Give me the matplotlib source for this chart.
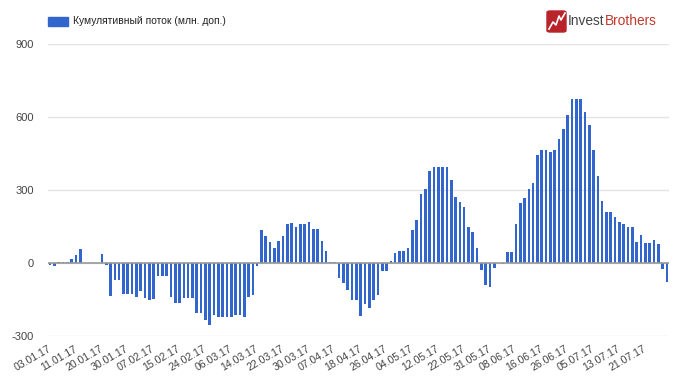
import matplotlib
matplotlib.use("Agg")
import matplotlib.pyplot as plt
import matplotlib.patches as mpatches
import numpy as np

# cumulative flow, one value per US trading day 03.01.17 - 28.07.17
flow = [-10, -12, 3, 3, 4, 15, 30, 57, 0, 0, 0, 0,
        36, -8, -138, -72, -72, -130, -130, -130, -141, -117, -143, -152,
        -150, -55, -55, -55, -141, -164, -164, -143, -143, -143, -207, -207,
        -236, -258, -216, -223, -223, -223, -223, -214, -214, -223, -142, -134,
        -15, 135, 112, 87, 61, 91, 112, 159, 165, 146, 159, 159,
        168, 138, 138, 91, 47, 5, 5, -61, -84, -110, -154, -154,
        -221, -168, -185, -154, -134, -32, -32, 9, 41, 50, 50, 59,
        134, 178, 281, 302, 377, 395, 394, 394, 394, 341, 272, 252,
        228, 149, 127, 59, -29, -91, -101, -20, 0, -4, 45, 45,
        160, 244, 267, 303, 327, 443, 462, 462, 456, 465, 510, 552,
        608, 673, 673, 673, 621, 568, 463, 356, 256, 207, 207, 188,
        167, 159, 149, 149, 87, 114, 80, 80, 94, 77, -26, -81]

tick_labels = ['03.01.17', '11.01.17', '20.01.17', '30.01.17', '07.02.17',
               '15.02.17', '24.02.17', '06.03.17', '14.03.17', '22.03.17',
               '30.03.17', '07.04.17', '18.04.17', '26.04.17', '04.05.17',
               '12.05.17', '22.05.17', '31.05.17', '08.06.17', '16.06.17',
               '26.06.17', '05.07.17', '13.07.17', '21.07.17']
tick_step = 6

y_ticks = [-300, 0, 300, 600, 900]
legend_label = 'Кумулятивный поток (млн. доп.)'

plt.rcParams['font.family'] = ['Liberation Sans', 'DejaVu Sans']

fig = plt.figure(figsize=(6.8, 3.78), dpi=100)
ax = fig.add_axes([48 / 680, 1 - 335.7 / 378, 621 / 680, (335.7 - 44) / 378])

x = np.arange(len(flow))
ax.bar(x, flow, width=0.6, color='#3366cc', zorder=3)

ax.set_xlim(-0.5, len(flow) - 0.5)
ax.set_ylim(-300, 900)
ax.set_yticks(y_ticks)
ax.set_yticklabels([str(v) for v in y_ticks], fontsize=8, color='#444444')
for v in y_ticks:
    ax.axhline(v, color='#e3e3e3', lw=1, zorder=1)
ax.axhline(0, color='#999999', lw=1.2, zorder=4)

ax.set_xticks(x[::tick_step])
ax.set_xticklabels(tick_labels, rotation=30, ha='right', va='center',
                   rotation_mode='anchor', fontsize=7.6, color='#444444')
ax.tick_params(axis='x', length=0, pad=9)
ax.tick_params(axis='y', length=0, pad=10)
for s in ax.spines.values():
    s.set_visible(False)

# legend
fig.patches.append(mpatches.Rectangle((48 / 680, 1 - 26 / 378), 20 / 680, 9 / 378,
                                      transform=fig.transFigure, color='#3366cc'))
fig.text(73 / 680, 1 - 21.5 / 378, legend_label, fontsize=7.4, color='#222222',
         va='center', ha='left')

# logo
fig.patches.append(mpatches.FancyBboxPatch((547 / 680, 1 - 32 / 378), 19 / 680, 21 / 378,
                                           boxstyle='round,pad=0,rounding_size=0.004',
                                           transform=fig.transFigure, color='#b8242a'))
zx = np.array([549, 553, 556, 559, 561, 565]) / 680
zy = 1 - np.array([29, 22, 25, 16, 20, 13]) / 378
fig.add_artist(plt.Line2D(zx, zy, transform=fig.transFigure, color='white', lw=1.2))
t1 = fig.text(568 / 680, 1 - 21 / 378, 'Invest', fontsize=9.9, color='#444444',
              va='center', ha='left')
fig.canvas.draw()
bb = t1.get_window_extent()
fig.text(bb.x1 / fig.bbox.width, 1 - 21 / 378, 'Brothers', fontsize=9.9,
         color='#c0392b', va='center', ha='left')

fig.savefig('out.png', dpi=100)
